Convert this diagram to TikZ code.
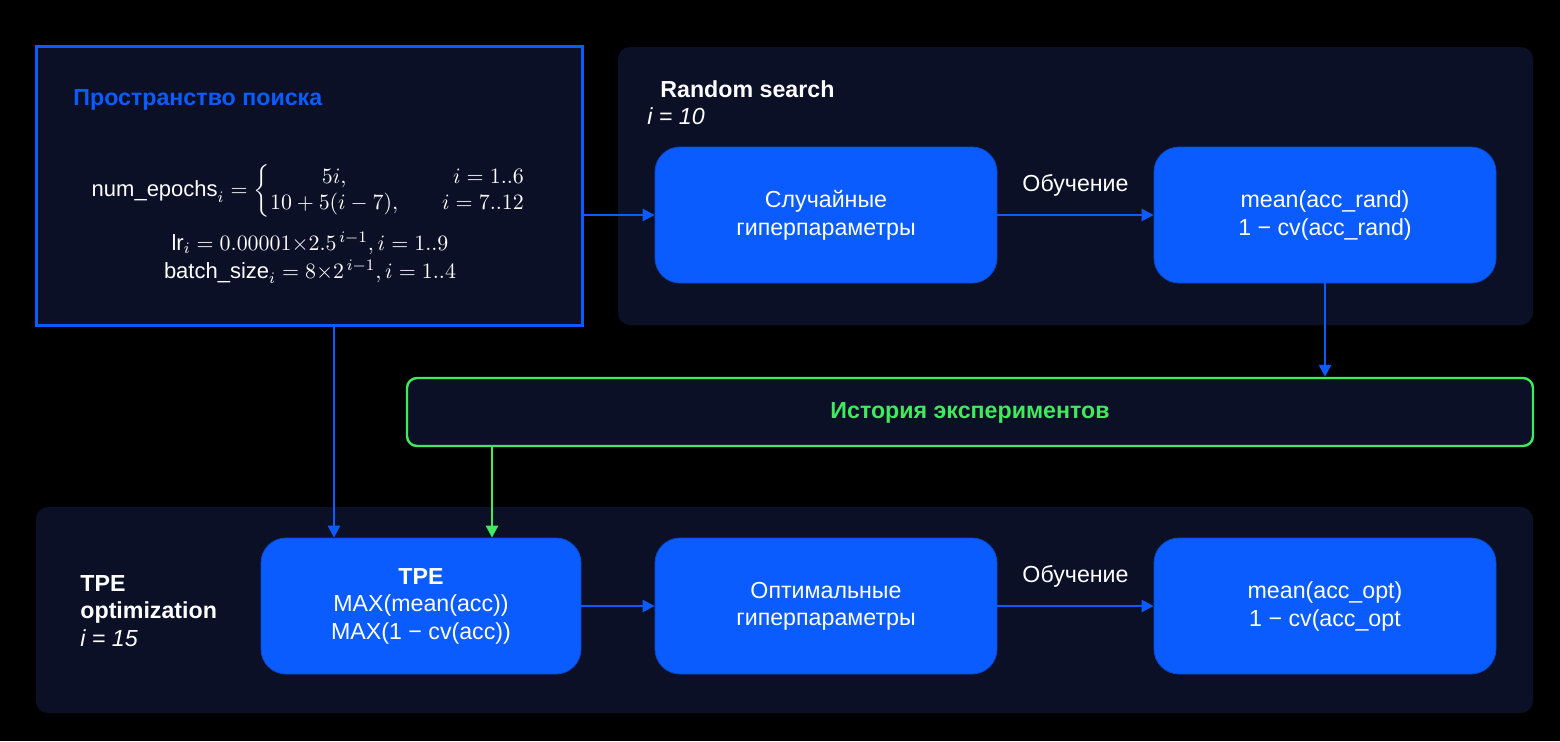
\documentclass[tikz,border=0pt]{standalone}
\usepackage{amsmath}
\usepackage{fontspec}
\setmainfont{Liberation Sans}
\usetikzlibrary{arrows.meta,positioning}
\definecolor{bgpanel}{HTML}{0B1027}
\definecolor{mblue}{HTML}{0A5CFF}
\definecolor{mgreen}{HTML}{3FEA5C}
\tikzset{
  panel/.style={fill=bgpanel, rounded corners=6pt, inner sep=0pt},
  bbox/.style={fill=mblue, draw=mblue!80!black, line width=0.4pt, rounded corners=12.5pt, minimum width=171pt, minimum height=68pt, align=center, text=white, font=\fontsize{11.6}{13.8}\selectfont, inner sep=2pt, text depth=2pt},
  arr/.style={draw=mblue, line width=1.3pt, -{Triangle[length=6pt,width=6pt]}},
  garr/.style={draw=mgreen, line width=1.3pt, -{Triangle[length=6pt,width=6pt]}},
  lbl/.style={text=white, font=\fontsize{11.6}{14}\selectfont, inner sep=1pt},
  frm/.style={text=white, font=\fontsize{11}{13}\selectfont, inner sep=0pt},
}
\begin{document}
\begin{tikzpicture}[x=0.5pt,y=-0.5pt]
\fill[black] (0,0) rectangle (1560,741);
\useasboundingbox (0,0) rectangle (1560,741);

% search space
\node[fill=bgpanel, draw=mblue, line width=1.5pt, minimum width=273pt, minimum height=139.5pt, inner sep=0pt] (ss) at (309,185.5) {};
\node[anchor=west, text=mblue, font=\bfseries\fontsize{11.6}{14}\selectfont, inner sep=0pt] (sstitle) at (73,100) {Пространство поиска};
\node[frm] (f1) at (309,191) {$\mbox{num\_epochs}_i = \left\{\begin{array}{@{}c@{\qquad}r@{}} 5i, & i = 1..6\\ 10+5(i-7), & i = 7..12\end{array}\right.$};
\node[frm] (f2) at (310,243) {$\mbox{lr}_i = 0.00001{\times}2.5^{\,i-1}, i = 1..9$};
\node[frm] (f3) at (310,272) {$\mbox{batch\_size}_i = 8{\times}2^{\,i-1}, i = 1..4$};

% random search panel
\node[panel, minimum width=457.5pt, minimum height=139pt] (rp) at (1075.5,186) {};
\node[anchor=west, text=white, font=\bfseries\fontsize{11.6}{14}\selectfont, inner sep=0pt] (rt) at (660,89) {Random search};
\node[anchor=west, text=white, font=\itshape\fontsize{11.6}{14}\selectfont, inner sep=0pt] (ri) at (647,116) {i = 10};
\node[bbox] (r1) at (826,215) {Случайные\\гиперпараметры};
\node[bbox] (r2) at (1325,215) {mean(acc\_rand)\\1 − cv(acc\_rand)};

% history
\node[fill=bgpanel, draw=mgreen, line width=1.2pt, rounded corners=5pt, minimum width=563pt, minimum height=34pt, inner sep=0pt] (hist) at (970,412) {};
\node[text=mgreen, font=\bfseries\fontsize{11.6}{14}\selectfont] (histt) at (970,413) {История экспериментов};

% TPE panel
\node[panel, minimum width=748.5pt, minimum height=103pt] (tp) at (784.5,610) {};
\node[anchor=west, text=white, font=\fontsize{11.6}{13.8}\selectfont, align=left, inner sep=0pt] (tt) at (80,611) {\textbf{TPE}\\\textbf{optimization}\\\textit{i = 15}};
\node[bbox, minimum width=160pt] (tpe) at (421,606) {\textbf{TPE}\\MAX(mean(acc))\\MAX(1 − cv(acc))};
\node[bbox] (o1) at (826,606) {Оптимальные\\гиперпараметры};
\node[bbox] (o2) at (1325,606) {mean(acc\_opt)\\1 − cv(acc\_opt};

% connectors
\coordinate (bend) at ([xshift=12.5pt]ss.south);
\coordinate (gend) at ([xshift=35.5pt]tpe.north);
\draw[arr] (ss.east |- r1.west) -- (r1.west);
\draw[arr] (r1.east) -- node[lbl, above=7.5pt] {Обучение} (r2.west);
\draw[arr] (r2.south) -- (r2.south |- hist.north);
\draw[arr] (bend) -- (bend |- tpe.north);
\draw[garr] (hist.south -| gend) -- (gend);
\draw[arr] (tpe.east) -- (o1.west);
\draw[arr] (o1.east) -- node[lbl, above=7.5pt] {Обучение} (o2.west);
\end{tikzpicture}
\end{document}
